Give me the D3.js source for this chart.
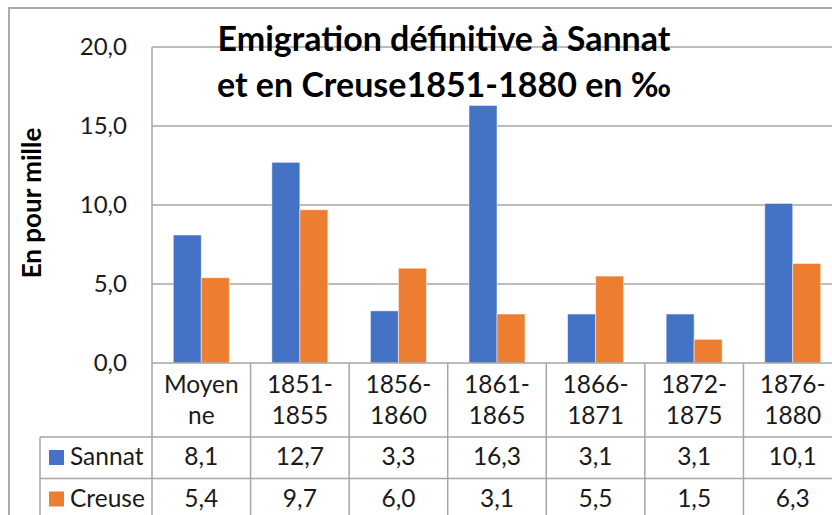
<!DOCTYPE html>
<html lang="fr">
<head>
  <meta charset="UTF-8">
  <title>Emigration définitive</title>
  <script src="https://cdnjs.cloudflare.com/ajax/libs/d3/7.8.5/d3.min.js"></script>
  <style>
    body { margin: 0; background: #fff; }
    svg { display: block; font-family: Lato, "Open Sans", sans-serif; }
  </style>
</head>
<body>
  <script>
var categories = [["Moyen", "ne"], ["1851-", "1855"], ["1856-", "1860"], ["1861-", "1865"],
                  ["1866-", "1871"], ["1872-", "1875"], ["1876-", "1880"]];
var sannat = [8.1, 12.7, 3.3, 16.3, 3.1, 3.1, 10.1];
var creuse = [5.4, 9.7, 6.0, 3.1, 5.5, 1.5, 6.3];
var seriesNames = ["Sannat", "Creuse"];
var yTicks = [0, 5, 10, 15, 20];

var width = 832, height = 515;
var blue = "#4472C4", orange = "#ED7D31", grid = "#A6A6A6";
var txtSize = 24.5;

var svg = d3.select("body").append("svg")
    .attr("width", width)
    .attr("height", height);

var plot = {left: 152, right: 842, top: 47, bottom: 363};
var rowH = 41.5;

var x0 = d3.scaleBand()
    .domain(d3.range(categories.length))
    .range([plot.left, plot.right]);

var x1 = d3.scaleBand()
    .domain(seriesNames)
    .range([x0.bandwidth() / 2 - 28, x0.bandwidth() / 2 + 28]);

var y = d3.scaleLinear()
    .domain([0, 20])
    .range([plot.bottom, plot.top]);

var fmt = function(v) { return d3.format(".1f")(v).replace(".", ","); };

// outer chart frame
svg.append("path")
    .attr("d", "M9,520V8H840")
    .attr("fill", "none")
    .attr("stroke", "#ABABAB")
    .attr("stroke-width", 2);

// gridlines
svg.append("g").selectAll("line")
    .data(yTicks.filter(function(d) { return d > 0; }))
  .enter().append("line")
    .attr("x1", plot.left).attr("x2", plot.right)
    .attr("y1", function(d) { return y(d); })
    .attr("y2", function(d) { return y(d); })
    .attr("stroke", grid)
    .attr("stroke-width", 1.5);

// y tick labels
svg.append("g").selectAll("text")
    .data(yTicks)
  .enter().append("text")
    .attr("x", 127)
    .attr("y", function(d) { return y(d); })
    .attr("dy", "0.35em")
    .attr("text-anchor", "end")
    .attr("font-size", 24)
    .attr("fill", "#1a1a1a")
    .text(fmt);

// bars
var data = categories.map(function(c, i) {
  return [{s: "Sannat", v: sannat[i], c: blue}, {s: "Creuse", v: creuse[i], c: orange}];
});

var groups = svg.append("g").selectAll("g")
    .data(data)
  .enter().append("g")
    .attr("transform", function(d, i) { return "translate(" + x0(i) + ",0)"; });

groups.selectAll("rect")
    .data(function(d) { return d; })
  .enter().append("rect")
    .attr("x", function(d) { return x1(d.s); })
    .attr("width", x1.bandwidth())
    .attr("y", function(d) { return y(d.v); })
    .attr("height", function(d) { return y(0) - y(d.v); })
    .attr("fill", function(d) { return d.c; })
    .attr("stroke", "#fff")
    .attr("stroke-opacity", 0.5)
    .attr("stroke-width", 1);

// data table
var table = svg.append("g")
    .attr("stroke", grid)
    .attr("stroke-width", 1.5);

var tBottom = plot.bottom + rowH * 4;
table.append("line")
    .attr("x1", plot.left).attr("x2", plot.right)
    .attr("y1", plot.bottom).attr("y2", plot.bottom);
[1, 2].forEach(function(r) {
  table.append("line")
      .attr("x1", 40).attr("x2", plot.right)
      .attr("y1", plot.bottom + 74 + (r - 1) * rowH)
      .attr("y2", plot.bottom + 74 + (r - 1) * rowH);
});
table.append("line")
    .attr("x1", 40).attr("x2", 40)
    .attr("y1", plot.bottom + 74).attr("y2", tBottom);
table.append("line")
    .attr("x1", plot.left).attr("x2", plot.left)
    .attr("y1", plot.top).attr("y2", tBottom);
d3.range(1, categories.length + 1).forEach(function(i) {
  var xx = i < categories.length ? x0(i) : plot.right;
  table.append("line")
      .attr("x1", xx).attr("x2", xx)
      .attr("y1", plot.bottom).attr("y2", tBottom);
});

// category labels (two lines)
var catLabels = svg.append("g").selectAll("text")
    .data(categories)
  .enter().append("text")
    .attr("text-anchor", "middle")
    .attr("font-size", txtSize)
    .attr("fill", "#1a1a1a");
catLabels.each(function(d, i) {
  var t = d3.select(this);
  d.forEach(function(line, k) {
    t.append("tspan")
        .attr("x", x0(i) + x0.bandwidth() / 2)
        .attr("y", 393 + k * 31)
        .text(line);
  });
});

// value rows
var rows = [sannat, creuse];
var rowColors = [blue, orange];
rows.forEach(function(vals, r) {
  var base = plot.bottom + 74 + r * rowH;
  svg.append("g").selectAll("text")
      .data(vals)
    .enter().append("text")
      .attr("x", function(d, i) { return x0(i) + x0.bandwidth() / 2; })
      .attr("y", base + 28)
      .attr("text-anchor", "middle")
      .attr("font-size", txtSize)
      .attr("fill", "#1a1a1a")
      .text(fmt);
  svg.append("rect")
      .attr("x", 49).attr("y", base + 13)
      .attr("width", 15).attr("height", 15)
      .attr("fill", rowColors[r]);
  svg.append("text")
      .attr("x", 70)
      .attr("y", base + 28)
      .attr("font-size", txtSize)
      .attr("fill", "#1a1a1a")
      .text(seriesNames[r]);
});

// y axis title
svg.append("text")
    .attr("transform", "translate(41,203) rotate(-90)")
    .attr("text-anchor", "middle")
    .attr("font-size", 26)
    .attr("font-weight", "bold")
    .attr("fill", "#000")
    .text("En pour mille");

// title
var title = svg.append("text")
    .attr("text-anchor", "middle")
    .attr("font-size", 34)
    .attr("font-weight", "bold")
    .attr("fill", "#000");
title.append("tspan").attr("x", 444).attr("y", 51).text("Emigration définitive à Sannat");
title.append("tspan").attr("x", 444).attr("y", 97).text("et en Creuse1851-1880 en ‰");
  </script>
</body>
</html>
